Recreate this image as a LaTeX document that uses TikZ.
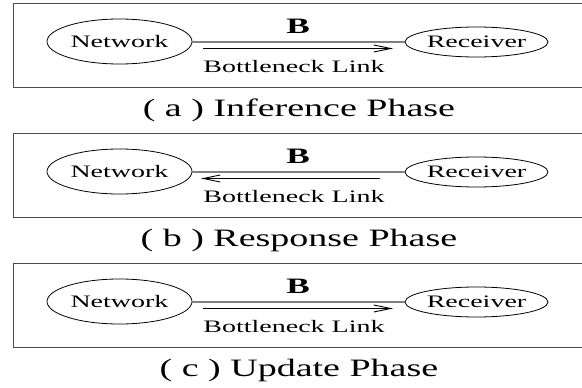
\documentclass[tikz,border=0pt]{standalone}
\usepackage{fontspec}
\setmainfont{Liberation Serif}[FakeStretch=1.6]
\newfontfamily\capfont{Liberation Serif}[FakeStretch=1.52]
\usetikzlibrary{shapes.geometric,arrows.meta}
\tikzset{
  panel/.style={draw=black!70, line width=1pt},
  party/.style={ellipse, draw=black, line width=0.8pt, inner sep=0pt},
  link/.style={draw=black!50, line width=2pt},
  flow/.style={draw=black, line width=0.9pt, -{Straight Barb[length=17pt,width=7pt,line width=0.9pt]}},
  lbl/.style={font=\fontsize{17.5}{20}\selectfont, inner sep=0pt},
  bw/.style={font=\fontsize{22}{24}\selectfont\bfseries, inner sep=0pt},
  captxt/.style={font=\capfont\fontsize{25}{28}\selectfont, inner sep=0pt}
}
\newcommand{\phasepanel}[4]{%
  % #1 vertical offset, #2 suffix, #3 caption, #4 arrow direction (0 right, 1 left)
  \begin{scope}[shift={(0,#1)}]
    \draw[panel] (13,3.5) rectangle (584,87);
    \node[party, minimum width=145pt, minimum height=45pt, lbl] (net#2) at (119.5,41.5) {Network};
    \node[party, minimum width=143pt, minimum height=30pt, lbl] (rec#2) at (476.5,42) {Receiver};
    \draw[link] (net#2.east |- 0,41.5) -- (rec#2.west |- 0,41.5);
    \coordinate (l#2) at (203,48.5);
    \coordinate (r#2) at (393,48.5);
    \coordinate (lb#2) at (201,48.5);
    \coordinate (rb#2) at (380,48.5);
    \ifnum#4=0
      \draw[flow] (l#2) -- (r#2);
    \else
      \draw[flow] (rb#2) -- (lb#2);
    \fi
    \node[bw] (b#2) at (298,26) {B};
    \node[lbl] (bl#2) at (294,67) {Bottleneck Link};
    \node[captxt] (c#2) at (299,110) {#3};
  \end{scope}}
\begin{document}
\begin{tikzpicture}[x=1pt, y=-1pt]
  \useasboundingbox (0,0) rectangle (582,388);
  \fill[white] (0,0) rectangle (582,388);
  \phasepanel{0}{a}{( a ) Inference Phase}{0}
  \phasepanel{130}{b}{( b ) Response Phase}{1}
  \phasepanel{260}{c}{( c ) Update Phase}{0}
\end{tikzpicture}
\end{document}
